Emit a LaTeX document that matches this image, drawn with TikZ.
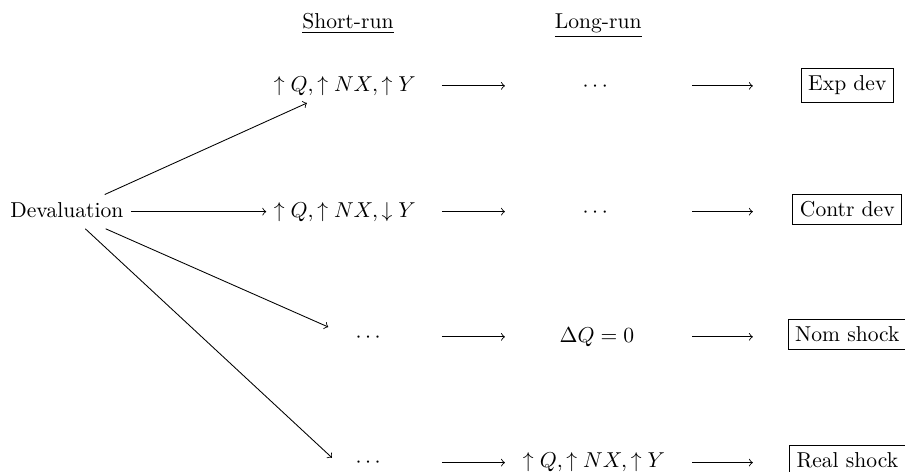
\documentclass[tikz,border=0pt]{standalone}
\usepackage{amsmath}
\begin{document}
\begin{tikzpicture}[
    cell/.style={inner sep=3.33pt, text height=1.6ex, text depth=0.45ex},
    outcome/.style={draw, inner sep=3.33pt, anchor=base}
  ]
  \useasboundingbox (0,0) rectangle (14.75,7.69);
  % headings
  \node [anchor=base] (hshort) at (5.67,7.22) {\underline{Short-run}};
  \node [anchor=base] (hlong) at (9.75,7.22) {\underline{Long-run}};
  % left
  \node [cell] (dev) at (1.09,4.24) {Devaluation};
  % short-run column
  \node [cell] (s1) at (5.62,6.29) {$\uparrow Q, \uparrow NX, \uparrow Y$};
  \node [cell] (s2) at (5.62,4.24) {$\uparrow Q, \uparrow NX, \downarrow Y$};
  \node [cell] (s3) at (6.03,2.20) {$\cdots$};
  \node [cell] (s4) at (6.03,0.15) {$\cdots$};
  % long-run column
  \node [cell] (l1) at (9.73,6.29) {$\cdots$};
  \node [cell] (l2) at (9.73,4.24) {$\cdots$};
  \node [cell] (l3) at (9.73,2.20) {$\Delta Q = 0$};
  \node [cell] (l4) at (9.68,0.15) {$\uparrow Q, \uparrow NX, \uparrow Y$};
  % outcomes
  \node [outcome] (o1) at (13.81,6.21) {Exp dev};
  \node [outcome] (o2) at (13.81,4.16) {Contr dev};
  \node [outcome] (o3) at (13.81,2.12) {Nom shock};
  \node [outcome] (o4) at (13.81,0.065) {Real shock};
  % arrows from devaluation
  \coordinate (tip3) at (5.35,2.36);
  \coordinate (tip4) at (5.41,0.23);
  \draw [->] (dev) -- (s1);
  \draw [->] (dev.east) -- (dev.east -| s2.west);
  \draw [->] (dev) -- (tip3);
  \draw [->] (dev) -- (tip4);
  % arrows between columns
  \foreach \y [count=\i] in {6.29,4.24,2.20,0.15} {
    \coordinate (a\i) at (7.20,\y);
    \coordinate (b\i) at (8.23,\y);
    \coordinate (c\i) at (11.28,\y);
    \coordinate (d\i) at (12.27,\y);
    \draw [->] (a\i) -- (b\i);
    \draw [->] (c\i) -- (d\i);
  }
\end{tikzpicture}
\end{document}
